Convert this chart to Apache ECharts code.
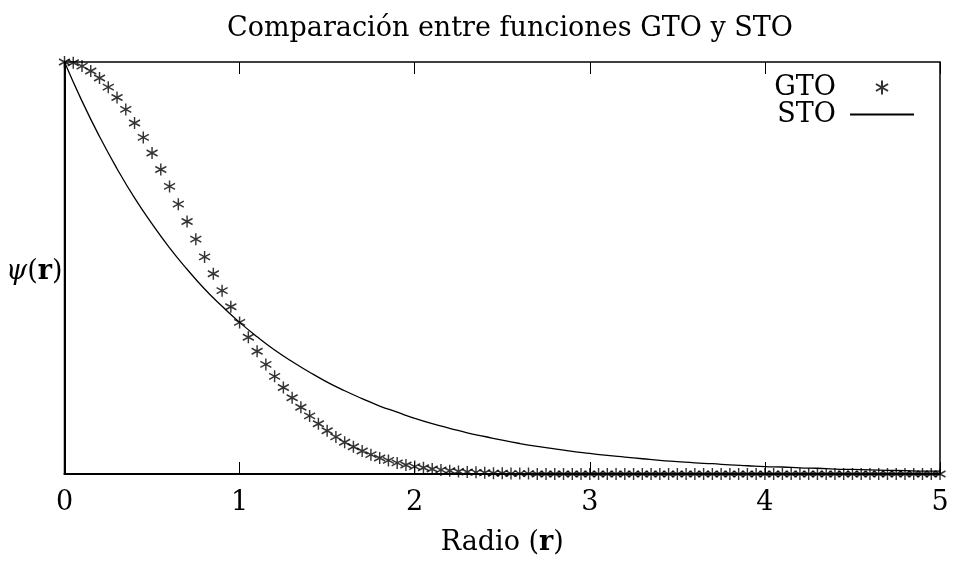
<!DOCTYPE html>
<html><head><meta charset="utf-8">
<script src="https://cdn.jsdelivr.net/npm/echarts@6/dist/echarts.min.js"></script>
<style>html,body{margin:0;padding:0;background:#fff}#c{width:955px;height:561px}</style>
</head><body><div id="c"></div>
<script>
var title = 'Comparación entre funciones GTO y STO';
var xTicks = [0, 1, 2, 3, 4, 5];
var rGTO = [0,0.05,0.1,0.15,0.2,0.25,0.3,0.35,0.4,0.45,0.5,0.55,0.6,0.65,0.7,0.75,0.8,0.85,0.9,0.95,
  1,1.05,1.1,1.15,1.2,1.25,1.3,1.35,1.4,1.45,1.5,1.55,1.6,1.65,1.7,1.75,1.8,1.85,1.9,1.95,
  2,2.05,2.1,2.15,2.2,2.25,2.3,2.35,2.4,2.45,2.5,2.55,2.6,2.65,2.7,2.75,2.8,2.85,2.9,2.95,
  3,3.05,3.1,3.15,3.2,3.25,3.3,3.35,3.4,3.45,3.5,3.55,3.6,3.65,3.7,3.75,3.8,3.85,3.9,3.95,
  4,4.05,4.1,4.15,4.2,4.25,4.3,4.35,4.4,4.45,4.5,4.55,4.6,4.65,4.7,4.75,4.8,4.85,4.9,4.95,5];
var gto = [1.000,0.998,0.990,0.978,0.961,0.939,0.914,0.885,0.852,0.817,0.779,0.739,0.698,0.655,0.613,0.570,0.527,0.486,0.445,0.406,
  0.368,0.332,0.298,0.266,0.237,0.210,0.185,0.162,0.141,0.122,0.105,0.090,0.077,0.066,0.056,0.047,0.039,0.033,0.027,0.022,
  0.018,0.015,0.012,0.010,0.008,0.006,0.005,0.004,0.003,0.002,0.002,0.001,0.001,0.001,0,0,0,0,0,0,
  0,0,0,0,0,0,0,0,0,0,0,0,0,0,0,0,0,0,0,0,
  0,0,0,0,0,0,0,0,0,0,0,0,0,0,0,0,0,0,0,0,0];
var rSTO = [0,0.1,0.2,0.3,0.4,0.5,0.6,0.7,0.8,0.9,1,1.1,1.2,1.3,1.4,1.5,1.6,1.7,1.8,1.9,
  2,2.1,2.2,2.3,2.4,2.5,2.6,2.7,2.8,2.9,3,3.1,3.2,3.3,3.4,3.5,3.6,3.7,3.8,3.9,
  4,4.1,4.2,4.3,4.4,4.5,4.6,4.7,4.8,4.9,5];
var sto = [1.000,0.905,0.819,0.741,0.670,0.607,0.549,0.497,0.449,0.407,0.368,0.333,0.301,0.273,0.247,0.223,0.202,0.183,0.165,0.150,
  0.135,0.122,0.111,0.100,0.091,0.082,0.074,0.067,0.061,0.055,0.050,0.045,0.041,0.037,0.033,0.030,0.027,0.025,0.022,0.020,
  0.018,0.017,0.015,0.014,0.012,0.011,0.010,0.009,0.008,0.007,0.007];

var FONT = 'DejaVu Serif';
var FS = 27;
var star = 'path://M0,-6L0,6M-5.2,-3L5.2,3M-5.2,3L5.2,-3';
function pairs(xs, ys){ return xs.map(function(x,i){return [x, ys[i]];}); }

var chart = echarts.init(document.getElementById('c'), null, {renderer:'canvas'});
chart.setOption({
  animation:false,
  backgroundColor:'#fff',
  title:{text:title, left:222, top:10, textStyle:{fontFamily:FONT, fontWeight:'normal', fontSize:FS, color:'#000'}},
  grid:{left:64.5, right:15, top:62, bottom:87, show:true, borderColor:'#000', borderWidth:1.5, containLabel:false},
  legend:{
    right:35, top:69, orient:'vertical', align:'right', itemGap:0, itemWidth:64, itemHeight:14,
    textStyle:{fontFamily:FONT, fontSize:FS, color:'#000', width:80, align:'right', padding:[0,9,0,0]},
    data:[{name:'GTO'},{name:'STO'}]
  },
  xAxis:[{
    type:'value', min:0, max:5, interval:1, position:'bottom',
    axisLine:{show:true, lineStyle:{color:'#000', width:2}},
    axisTick:{show:true, inside:true, length:12, lineStyle:{color:'#000', width:1}},
    axisLabel:{fontFamily:FONT, fontSize:FS, color:'#000', margin:15,
      formatter:function(v){return xTicks.indexOf(v)>=0 ? String(v) : '';}},
    splitLine:{show:false},
    name:'Radio ({b|r})', nameLocation:'middle', nameGap:55,
    nameTextStyle:{fontFamily:FONT, fontSize:FS, color:'#000', rich:{b:{fontFamily:FONT, fontSize:FS, fontWeight:'bold', color:'#000'}}}
  },{
    type:'value', min:0, max:5, interval:1, position:'top',
    axisLine:{show:false}, axisLabel:{show:false}, splitLine:{show:false},
    axisTick:{show:true, inside:true, length:12, lineStyle:{color:'#000', width:1}}
  }],
  yAxis:{
    type:'value', min:0, max:1,
    axisLine:{show:true, lineStyle:{color:'#000', width:2}},
    axisTick:{show:false}, axisLabel:{show:false}, splitLine:{show:false},
    name:'{i|ψ}({b|r})', nameLocation:'middle', nameRotate:0, nameGap:2,
    nameTextStyle:{fontFamily:FONT, fontSize:FS, color:'#000', align:'right', padding:[8,0,0,0],
      rich:{b:{fontFamily:FONT, fontSize:FS, fontWeight:'bold', color:'#000'}, i:{fontFamily:FONT, fontSize:FS, fontStyle:'italic', color:'#000'}}}
  },
  series:[{
    name:'GTO', type:'scatter', data:pairs(rGTO, gto), symbol:star, symbolSize:[11,12],
    itemStyle:{color:'rgba(0,0,0,0)', borderColor:'#000', borderWidth:1.5}
  },{
    name:'STO', type:'line', data:pairs(rSTO, sto), smooth:true, showSymbol:false, symbol:'none',
    lineStyle:{color:'#000', width:1.3}, itemStyle:{color:'rgba(0,0,0,0)', borderColor:'rgba(0,0,0,0)'}
  }]
});
</script></body></html>
